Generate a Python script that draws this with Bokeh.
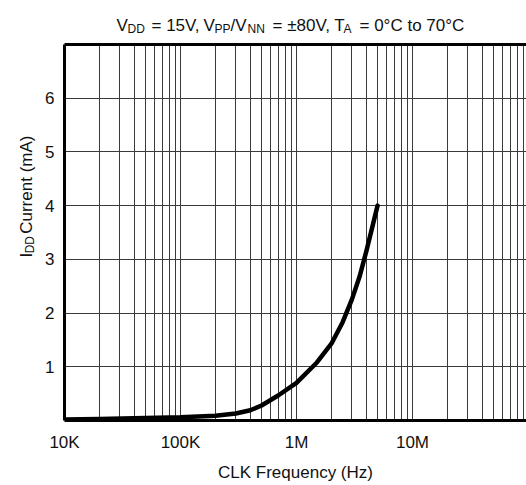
import math
from bokeh.plotting import figure
from bokeh.layouts import column, row
from bokeh.models import FixedTicker, Label, LogAxis, Range1d
from bokeh.embed import file_html
from bokeh.resources import INLINE

# ---- data ----
freq_hz = [1e4, 2e4, 5e4, 1e5, 2e5, 3e5, 4e5, 5e5, 7e5, 1e6, 1.5e6, 2e6,
           2.5e6, 3e6, 3.5e6, 4e6, 5e6]
idd_ma = [0.02, 0.03, 0.045, 0.06, 0.09, 0.13, 0.19, 0.28, 0.47, 0.70, 1.08,
          1.43, 1.83, 2.25, 2.68, 3.15, 4.0]

x_ticks = [1e4, 1e5, 1e6, 1e7]
x_tick_labels = ["10K", "100K", "1M", "10M"]
x_minor = [m * 10 ** e for e in range(4, 8) for m in range(2, 10)]
y_ticks = [1, 2, 3, 4, 5, 6]

FONT = "Liberation Sans"
MAIN = "17px"
SUB = "12px"
TXT = "#111111"

TITLE_H = 42
YLAB_W = 40

# ---------------- main chart ----------------
p = figure(width=526 - YLAB_W, height=485 - TITLE_H, x_axis_type="log",
           x_range=Range1d(1e4, 10 ** 7.983), y_range=Range1d(0, 7),
           output_backend="svg", toolbar_location=None,
           min_border_left=64 - YLAB_W, min_border_right=0,
           min_border_top=2, min_border_bottom=65)
p.outline_line_color = None
p.background_fill_color = "white"
p.border_fill_color = "white"

xa = p.xaxis[0]
xa.ticker = FixedTicker(ticks=x_ticks, minor_ticks=x_minor)
xa.major_label_overrides = {t: l for t, l in zip(x_ticks, x_tick_labels)}
xa.axis_line_width = 3
xa.axis_line_color = "black"
xa.major_tick_out = 0
xa.major_tick_in = 0
xa.minor_tick_out = 0
xa.minor_tick_in = 0
xa.major_label_text_font = FONT
xa.major_label_text_font_size = MAIN
xa.major_label_text_color = TXT
xa.major_label_standoff = 12
xa.axis_label = "CLK Frequency (Hz)"
xa.axis_label_text_font = FONT
xa.axis_label_text_font_size = MAIN
xa.axis_label_text_font_style = "normal"
xa.axis_label_text_color = TXT
xa.axis_label_standoff = 8

ya = p.yaxis[0]
ya.ticker = FixedTicker(ticks=y_ticks)
ya.axis_line_width = 3
ya.axis_line_color = "black"
ya.major_tick_out = 0
ya.major_tick_in = 0
ya.minor_tick_out = 0
ya.minor_tick_in = 0
ya.major_label_text_font = FONT
ya.major_label_text_font_size = MAIN
ya.major_label_text_color = TXT
ya.major_label_standoff = 10

top = LogAxis(ticker=FixedTicker(ticks=[]), axis_line_width=3,
              axis_line_color="black", major_tick_out=0, major_tick_in=0,
              minor_tick_out=0, minor_tick_in=0, major_label_standoff=0,
              major_label_text_font_size="0px")
p.add_layout(top, "above")

p.xgrid.ticker = FixedTicker(ticks=x_ticks, minor_ticks=x_minor)
p.xgrid.grid_line_color = "#3a3a3a"
p.xgrid.minor_grid_line_color = "#3a3a3a"
p.xgrid.grid_line_width = 1
p.xgrid.minor_grid_line_width = 1
p.ygrid.ticker = FixedTicker(ticks=y_ticks)
p.ygrid.grid_line_color = "#3a3a3a"
p.ygrid.grid_line_width = 1

p.line(freq_hz, idd_ma, line_color="black", line_width=4.5,
       line_join="round", line_cap="round")


def text_fig(w, h):
    f = figure(width=w, height=h, x_range=Range1d(0, w), y_range=Range1d(h, 0),
               output_backend="svg", toolbar_location=None,
               x_axis_location=None, y_axis_location=None, min_border=0)
    f.outline_line_color = None
    f.background_fill_color = "white"
    f.border_fill_color = "white"
    f.xgrid.visible = False
    f.ygrid.visible = False
    return f


def put(f, txt, x, y, size, angle=0.0):
    f.add_layout(Label(x=x, y=y, text=txt, text_font=FONT,
                       text_font_size=size, text_color=TXT,
                       text_align="left", text_baseline="alphabetic",
                       angle=angle))


# ---------------- title (with subscripts) ----------------
t = text_fig(526, TITLE_H)
base, sub = 25, 28
put(t, "V", 116, base, MAIN)
put(t, "DD", 127, sub, SUB)
put(t, "= 15V,", 151, base, MAIN)
put(t, "V", 203, base, MAIN)
put(t, "PP", 214, sub, SUB)
put(t, "/V", 230, base, MAIN)
put(t, "NN", 247, sub, SUB)
put(t, "= \u00b180V, T", 272, base, MAIN)
put(t, "A", 343, sub, SUB)
put(t, "= 0\u00b0C to 70\u00b0C", 359, base, MAIN)

# ---------------- y axis title (rotated, with subscript) ----------------
yl = text_fig(YLAB_W, 485 - TITLE_H)
ang = math.pi / 2
put(yl, "I", 26, 293 - TITLE_H, MAIN, ang)
put(yl, "DD", 29, 288 - TITLE_H, SUB, ang)
put(yl, "Current (mA)", 26, 265 - TITLE_H, MAIN, ang)

layout = column(t, row(yl, p, spacing=0), spacing=0)

with open("out.html", "w") as f:
    f.write(file_html(layout, INLINE))
